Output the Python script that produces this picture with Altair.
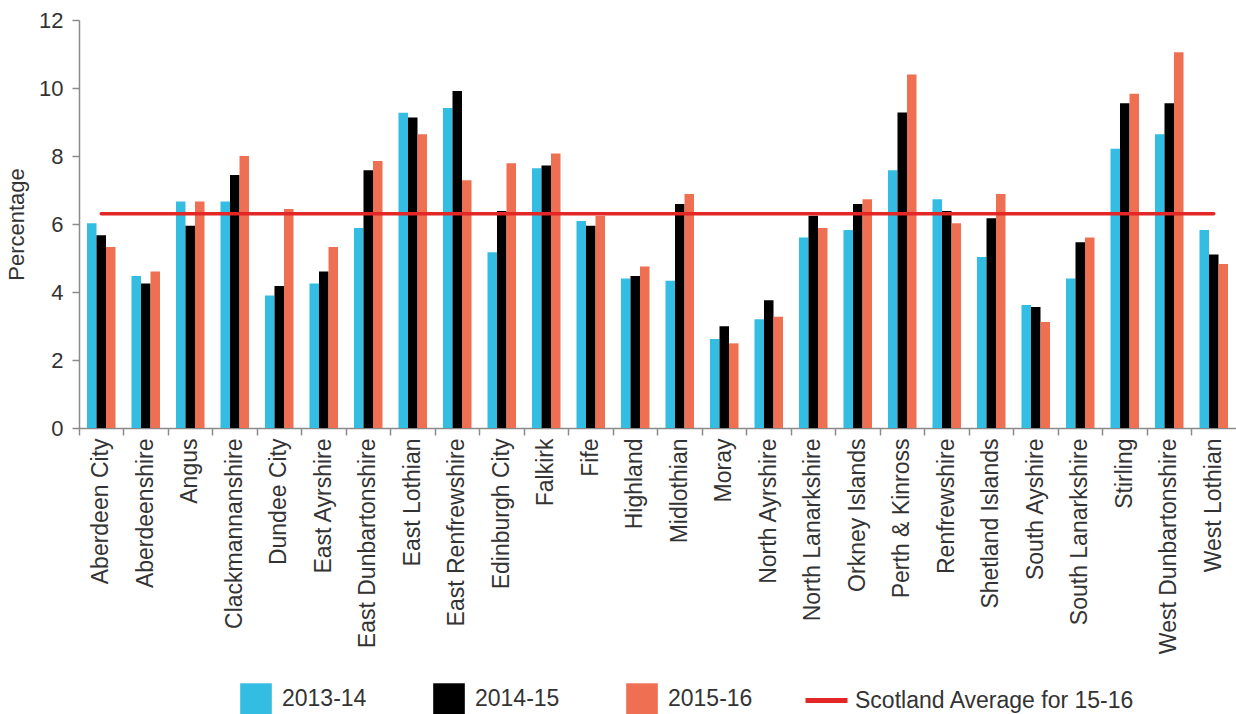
import altair as alt
import pandas as pd

# Council areas along the x axis
councils = [
    "Aberdeen City", "Aberdeenshire", "Angus", "Clackmannanshire", "Dundee City",
    "East Ayrshire", "East Dunbartonshire", "East Lothian", "East Renfrewshire",
    "Edinburgh City", "Falkirk", "Fife", "Highland", "Midlothian", "Moray",
    "North Ayrshire", "North Lanarkshire", "Orkney Islands", "Perth & Kinross",
    "Renfrewshire", "Shetland Islands", "South Ayshire", "South Lanarkshire",
    "Stirling", "West Dunbartonshire", "West Lothian",
]

# Percentage per council and year
pct_2013_14 = [6.02, 4.47, 6.66, 6.66, 3.90, 4.25, 5.88, 9.27, 9.41, 5.17, 7.64, 6.09, 4.40,
               4.33, 2.62, 3.20, 5.60, 5.82, 7.58, 6.73, 5.03, 3.62, 4.40, 8.21, 8.64, 5.82]
pct_2014_15 = [5.67, 4.25, 5.95, 7.44, 4.18, 4.60, 7.58, 9.13, 9.91, 6.38, 7.72, 5.95, 4.47,
               6.59, 2.99, 3.76, 6.24, 6.59, 9.28, 6.38, 6.17, 3.56, 5.46, 9.55, 9.55, 5.10]
pct_2015_16 = [5.32, 4.60, 6.66, 8.00, 6.44, 5.32, 7.85, 8.64, 7.29, 7.79, 8.07, 6.24, 4.75,
               6.88, 2.49, 3.27, 5.88, 6.73, 10.40, 6.02, 6.88, 3.12, 5.60, 9.83, 11.05, 4.82]

scotland_average_15_16 = 6.3

years = ["2013-14", "2014-15", "2015-16"]
year_colors = ["#33bde3", "#000000", "#ef6f53"]
avg_label = "Scotland Average for 15-16"
avg_color = "#e32626"

bars_df = pd.DataFrame({"Council": councils, years[0]: pct_2013_14,
                        years[1]: pct_2014_15, years[2]: pct_2015_16})
bars_df = bars_df.melt(id_vars="Council", var_name="Series", value_name="Percentage")

avg_df = pd.DataFrame({"Council": councils,
                       "Percentage": [scotland_average_15_16] * len(councils),
                       "Series": avg_label})

FONT = "Liberation Sans"
TEXT = "#333333"
AXIS = "#8a8a8a"

x_enc = alt.X("Council:N", sort=councils, title=None,
              scale=alt.Scale(paddingInner=0, paddingOuter=0),
              axis=alt.Axis(labelAngle=-90, bandPosition=0, tickSize=7,
                            labelPadding=3, labelFontSize=23, labelColor=TEXT,
                            labelFont=FONT, labelLimit=400, domainColor=AXIS,
                            tickColor=AXIS, domainWidth=1.5, tickWidth=1.5))
y_enc = alt.Y("Percentage:Q", title="Percentage",
              scale=alt.Scale(domain=[0, 12], nice=False),
              axis=alt.Axis(values=[0, 2, 4, 6, 8, 10, 12], grid=False, tickSize=7,
                            labelPadding=9, labelFontSize=22, labelColor=TEXT,
                            labelFont=FONT, titleFont=FONT, titleFontSize=22,
                            titleFontWeight="normal", titleColor=TEXT, titlePadding=10,
                            domainColor=AXIS, tickColor=AXIS, domainWidth=1.5,
                            tickWidth=1.5))

bars = alt.Chart(bars_df).mark_bar().encode(
    x=x_enc,
    xOffset=alt.XOffset("Series:N", sort=years,
                        scale=alt.Scale(paddingInner=0, paddingOuter=0.84)),
    y=y_enc,
    color=alt.Color("Series:N", scale=alt.Scale(domain=years, range=year_colors),
                    legend=alt.Legend(title=None, orient="none", direction="horizontal",
                                      legendX=161, legendY=663, labelFont=FONT,
                                      labelFontSize=23, labelColor=TEXT, labelOffset=10,
                                      labelLimit=300, symbolSize=1000, symbolType="square",
                                      symbolStrokeWidth=0, columnPadding=66, padding=0)),
)

average_line = alt.Chart(avg_df).mark_line(strokeWidth=3.5, strokeCap="round").encode(
    x=alt.X("Council:N", sort=councils),
    y=alt.Y("Percentage:Q"),
    color=alt.Color("Series:N", scale=alt.Scale(domain=[avg_label], range=[avg_color]),
                    legend=alt.Legend(title=None, orient="none", direction="horizontal",
                                      legendX=724, legendY=657, labelFont=FONT,
                                      labelFontSize=23, labelColor=TEXT, labelOffset=5,
                                      labelLimit=400, symbolType="stroke", symbolSize=1764,
                                      symbolStrokeWidth=5, symbolStrokeColor="#c0182a",
                                      padding=0)),
)

chart = alt.layer(bars, average_line).resolve_scale(color="independent").properties(
    width=1157, height=408,
    autosize=alt.AutoSizeParams(type="none"),
    padding={"left": 79, "top": 20, "right": 0, "bottom": 286},
    background="white",
).configure_view(stroke=None)

chart.save("out.html", embed_options={"renderer": "svg", "actions": False})
